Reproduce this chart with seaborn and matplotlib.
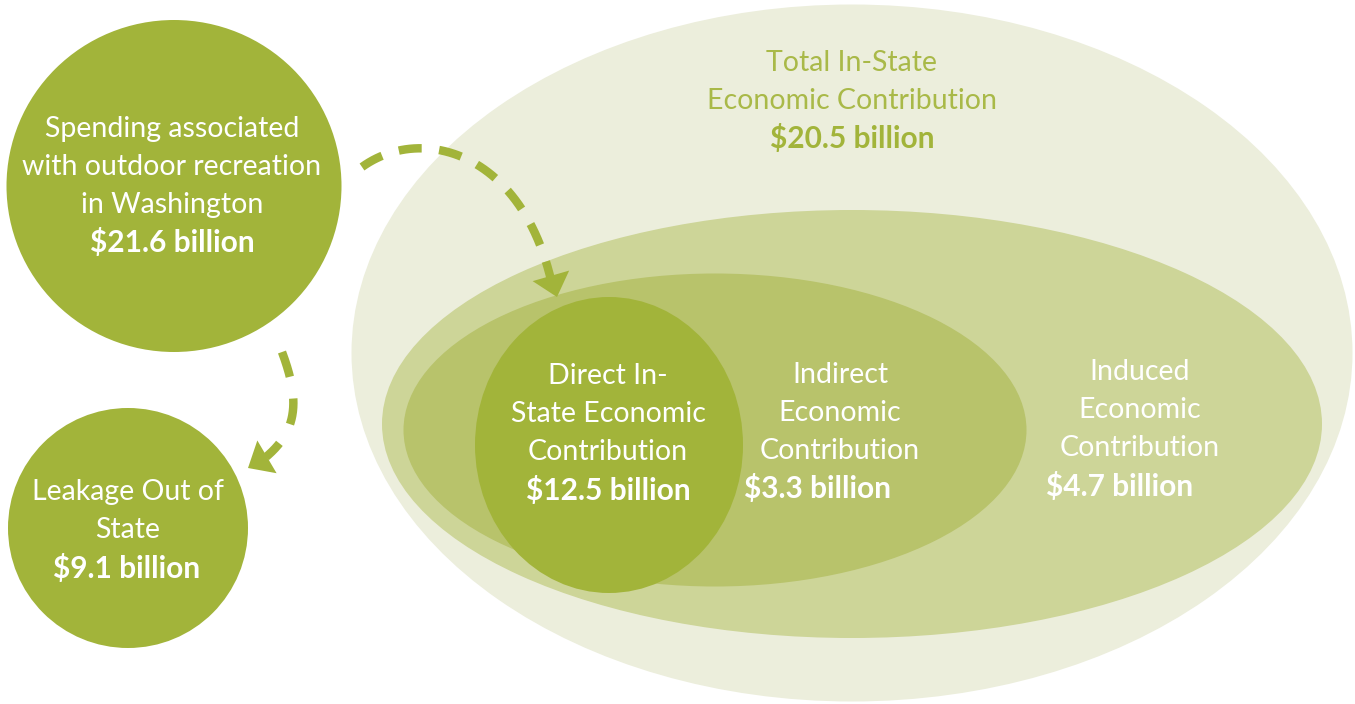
import numpy as np
import matplotlib
matplotlib.use("Agg")
import matplotlib.pyplot as plt
import seaborn as sns
from matplotlib.patches import Ellipse, Polygon

# Daten (Milliarden USD)
stages = ["Spending associated\nwith outdoor recreation\nin Washington",
          "Leakage Out of\nState",
          "Total In-State\nEconomic Contribution",
          "Direct In-\nState Economic\nContribution",
          "Indirect\nEconomic\nContribution",
          "Induced\nEconomic\nContribution"]
billions = [21.6, 9.1, 20.5, 12.5, 3.3, 4.7]

# colours: outer ring -> core
ring_colors = ["#ECEEDC", "#CDD598", "#B8C36B", "#A2B43A"]

sns.set_theme(style="white")
pal = sns.color_palette(ring_colors)
dark = pal[3]
plt.rcParams["font.family"] = ["Lato", "DejaVu Sans"]

fig = plt.figure(figsize=(13.55, 7.04), dpi=100)
ax = fig.add_axes([0, 0, 1, 1])
ax.set_xlim(0, 1355)
ax.set_ylim(704, 0)
ax.axis("off")

# shapes: (centre, width, height, colour)
shapes = [((852, 353), 1001, 697, pal[0]),
          ((852, 424), 940, 428, pal[1]),
          ((715, 430), 623, 313, pal[2]),
          ((609, 445), 268, 296, pal[3]),
          ((174, 186), 335, 332, pal[3]),
          ((128, 528), 240, 240, pal[3])]
for c, w, h, col in shapes:
    ax.add_patch(Ellipse(c, w, h, facecolor=col, edgecolor="none"))


def bezier(p0, p1, p2, p3, n=200):
    t = np.linspace(0, 1, n)[:, None]
    pts = ((1 - t) ** 3) * np.array(p0) + 3 * ((1 - t) ** 2) * t * np.array(p1) \
        + 3 * (1 - t) * t ** 2 * np.array(p2) + t ** 3 * np.array(p3)
    return pts


def head(tip, direction, length=22, width=38):
    d = np.array(direction, dtype=float)
    d /= np.linalg.norm(d)
    nrm = np.array([-d[1], d[0]])
    tip = np.array(tip, dtype=float)
    base = tip - length * d
    ax.add_patch(Polygon([tip, base + nrm * width / 2, base - nrm * width / 2],
                         closed=True, facecolor=dark, edgecolor="none"))


lw = 6.1
pts = bezier((362, 167), (420, 125), (520, 150), (551, 280))
ax.plot(pts[:, 0], pts[:, 1], color=dark, lw=lw, linestyle=(0, (2.72, 2.07)),
        dash_capstyle="butt")
head((557, 297), (0.277, 0.96))

pts = bezier((282, 352), (300, 400), (298, 430), (266, 457))
ax.plot(pts[:, 0], pts[:, 1], color=dark, lw=lw, linestyle=(0, (3.07, 2.6)),
        dash_capstyle="butt")
head((248, 468), (-0.862, 0.507))

# label blocks: (x, first line y, colour, value x, value colour)
blocks = [(172, 129, "white", 172, "white"),
          (128, 492, "white", 127, "white"),
          (852, 63, "#A9B948", 852, dark),
          (608, 376, "white", 608, "white"),
          (840, 375, "white", 817, "white"),
          (1140, 372, "white", 1120, "white")]
step = 38
for name, val, (x, y, col, vx, vcol) in zip(stages, billions, blocks):
    lines = name.split("\n")
    for i, ln in enumerate(lines):
        ax.text(x, y + i * step, ln, ha="center", va="center", color=col,
                fontsize=20.5, fontweight="normal")
    ax.text(vx, y + len(lines) * step, f"${val} billion", ha="center", va="center",
            color=vcol, fontsize=21.5, fontweight="bold")

fig.savefig("out.png", dpi=100, facecolor="white")
